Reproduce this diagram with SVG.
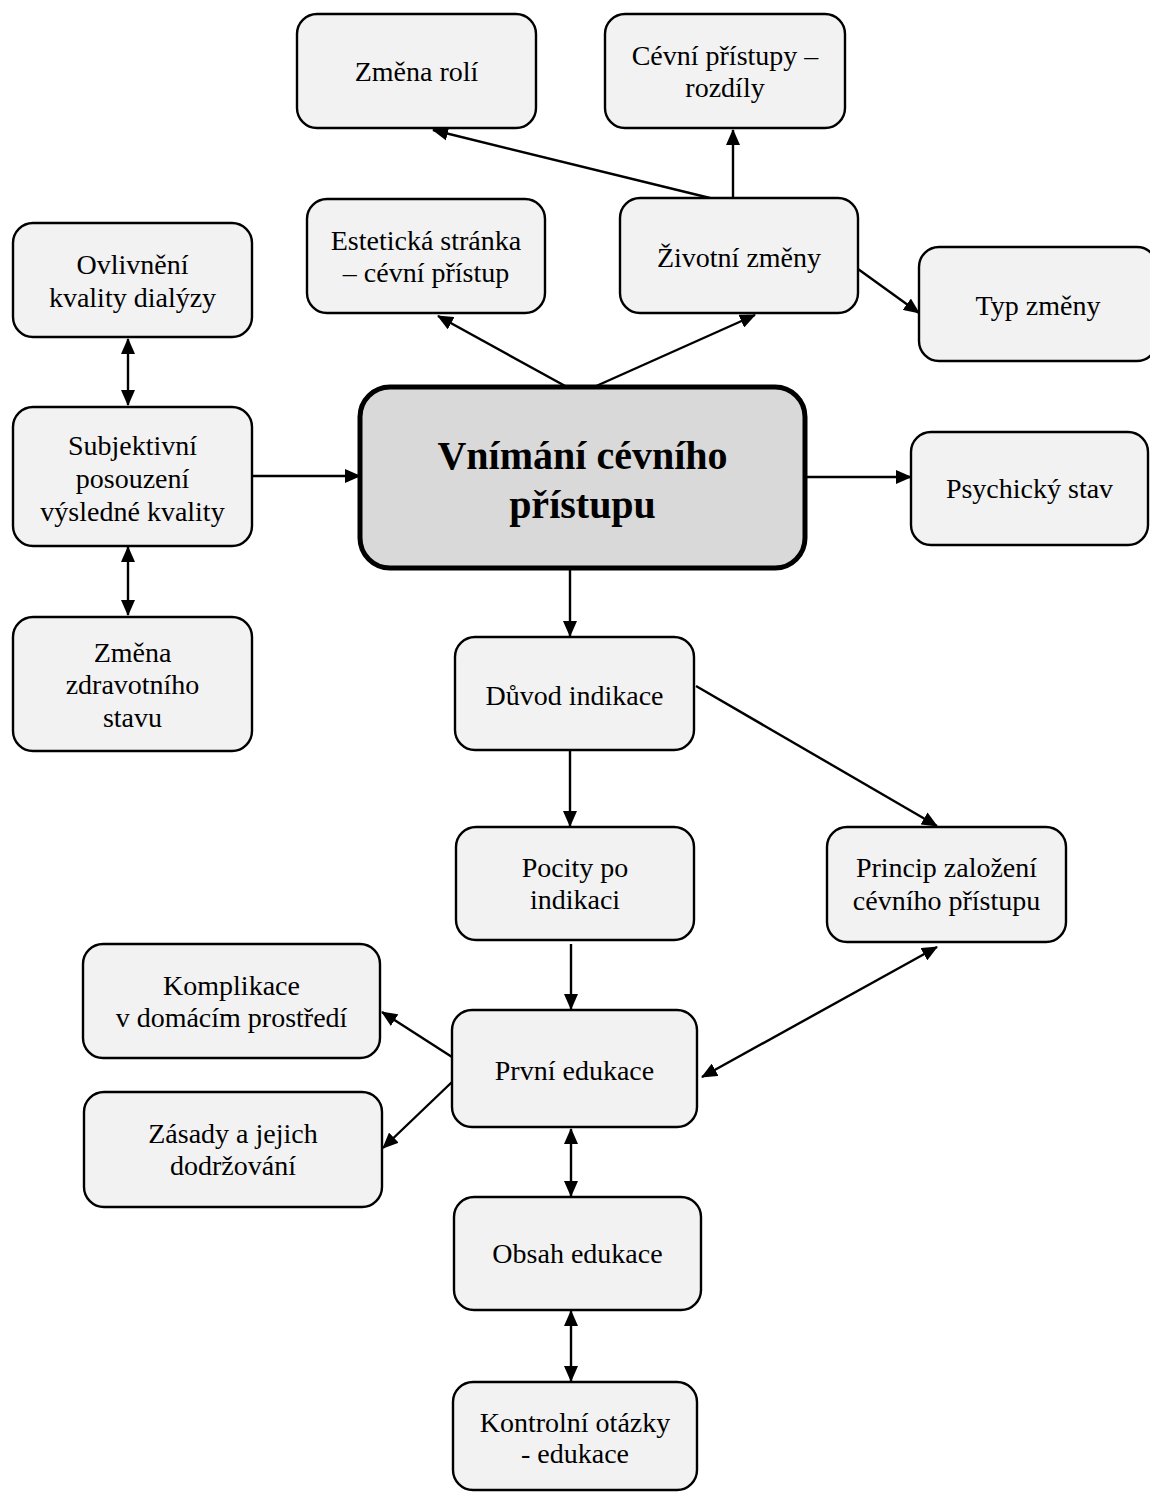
<svg xmlns="http://www.w3.org/2000/svg" width="1150" height="1492" viewBox="0 0 1150 1492">
<style>
.node rect{fill:#f2f2f2;stroke:#000;stroke-width:2.4}
.main rect{fill:#d9d9d9;stroke:#000;stroke-width:5}
text{font-family:"Liberation Serif","Times New Roman",serif;font-size:28px;fill:#000;text-anchor:middle}
.main text{font-size:40px;font-weight:bold}
.conn line{stroke:#000;stroke-width:2.4;fill:none}
</style>
<defs>
<marker id="ah" viewBox="0 0 16 14" refX="15" refY="7" markerWidth="16" markerHeight="14" markerUnits="userSpaceOnUse" orient="auto-start-reverse">
<path d="M0,0 L16,7 L0,14 z" fill="#000"/>
</marker>
</defs>
<rect width="1150" height="1492" fill="#fff"/>
<g class="conn">
<line x1="710" y1="198" x2="433" y2="130" marker-end="url(#ah)"/>
<line x1="733" y1="198" x2="733" y2="130" marker-end="url(#ah)"/>
<line x1="567" y1="387" x2="438" y2="316" marker-end="url(#ah)"/>
<line x1="594" y1="387" x2="755" y2="315" marker-end="url(#ah)"/>
<line x1="858" y1="269" x2="919" y2="313" marker-end="url(#ah)"/>
<line x1="252" y1="476" x2="360" y2="476" marker-end="url(#ah)"/>
<line x1="805" y1="477" x2="911" y2="477" marker-end="url(#ah)"/>
<line x1="128" y1="339" x2="128" y2="405" marker-start="url(#ah)" marker-end="url(#ah)"/>
<line x1="128" y1="547" x2="128" y2="615" marker-start="url(#ah)" marker-end="url(#ah)"/>
<line x1="570" y1="568" x2="570" y2="636" marker-end="url(#ah)"/>
<line x1="570" y1="750" x2="570" y2="826" marker-end="url(#ah)"/>
<line x1="696" y1="686" x2="937" y2="826" marker-end="url(#ah)"/>
<line x1="571" y1="944" x2="571" y2="1009" marker-end="url(#ah)"/>
<line x1="452" y1="1057" x2="382" y2="1012" marker-end="url(#ah)"/>
<line x1="452" y1="1082" x2="383" y2="1148" marker-end="url(#ah)"/>
<line x1="937" y1="947" x2="702" y2="1077" marker-start="url(#ah)" marker-end="url(#ah)"/>
<line x1="571" y1="1129" x2="571" y2="1196" marker-start="url(#ah)" marker-end="url(#ah)"/>
<line x1="571" y1="1311" x2="571" y2="1381" marker-start="url(#ah)" marker-end="url(#ah)"/>
</g>
<g id="zmena-roli" class="node"><rect x="297" y="14" width="239" height="114" rx="20"/><text x="416.5" y="81">Změna rolí</text></g>
<g id="cevni-pristupy" class="node"><rect x="605" y="14" width="240" height="114" rx="20"/><text x="725" y="65">Cévní přístupy –</text><text x="725" y="97">rozdíly</text></g>
<g id="esteticka" class="node"><rect x="307" y="199" width="238" height="114" rx="20"/><text x="426" y="250">Estetická stránka</text><text x="426" y="282">– cévní přístup</text></g>
<g id="zivotni-zmeny" class="node"><rect x="620" y="198" width="238" height="115" rx="20"/><text x="739" y="267">Životní změny</text></g>
<g id="typ-zmeny" class="node"><rect x="919" y="247" width="238" height="114" rx="20"/><text x="1038" y="315">Typ změny</text></g>
<g id="ovlivneni" class="node"><rect x="13" y="223" width="239" height="114" rx="20"/><text x="132.5" y="274">Ovlivnění</text><text x="132.5" y="307">kvality dialýzy</text></g>
<g id="subjektivni" class="node"><rect x="13" y="407" width="239" height="139" rx="20"/><text x="132.5" y="455">Subjektivní</text><text x="132.5" y="488">posouzení</text><text x="132.5" y="521">výsledné kvality</text></g>
<g id="zmena-zdravotniho" class="node"><rect x="13" y="617" width="239" height="134" rx="20"/><text x="132.5" y="662">Změna</text><text x="132.5" y="694">zdravotního</text><text x="132.5" y="727">stavu</text></g>
<g id="vnimani" class="main"><rect x="360" y="387" width="445" height="181" rx="30"/><text x="582.5" y="469">Vnímání cévního</text><text x="582.5" y="518">přístupu</text></g>
<g id="psychicky-stav" class="node"><rect x="911" y="432" width="237" height="113" rx="20"/><text x="1029.5" y="498">Psychický stav</text></g>
<g id="duvod-indikace" class="node"><rect x="455" y="637" width="239" height="113" rx="20"/><text x="574.5" y="705">Důvod indikace</text></g>
<g id="pocity" class="node"><rect x="456" y="827" width="238" height="113" rx="20"/><text x="575" y="877">Pocity po</text><text x="575" y="909">indikaci</text></g>
<g id="princip" class="node"><rect x="827" y="827" width="239" height="115" rx="20"/><text x="946.5" y="877">Princip založení</text><text x="946.5" y="910">cévního přístupu</text></g>
<g id="komplikace" class="node"><rect x="83" y="944" width="297" height="114" rx="20"/><text x="231.5" y="995">Komplikace</text><text x="231.5" y="1027">v domácím prostředí</text></g>
<g id="prvni-edukace" class="node"><rect x="452" y="1010" width="245" height="117" rx="20"/><text x="574.5" y="1080">První edukace</text></g>
<g id="zasady" class="node"><rect x="84" y="1092" width="298" height="115" rx="20"/><text x="233" y="1143">Zásady a jejich</text><text x="233" y="1175">dodržování</text></g>
<g id="obsah-edukace" class="node"><rect x="454" y="1197" width="247" height="113" rx="20"/><text x="577.5" y="1263">Obsah edukace</text></g>
<g id="kontrolni-otazky" class="node"><rect x="453" y="1382" width="244" height="108" rx="20"/><text x="575" y="1432">Kontrolní otázky</text><text x="575" y="1463">- edukace</text></g>
</svg>
